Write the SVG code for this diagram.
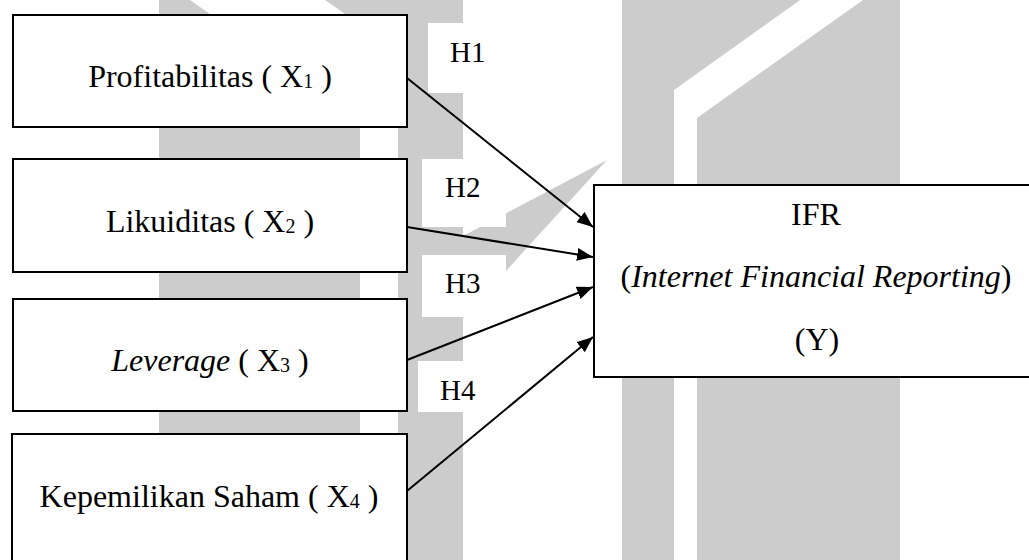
<svg xmlns="http://www.w3.org/2000/svg" width="1029" height="560" viewBox="0 0 1029 560">
<style>
.wm{fill:#cccccc;stroke:none}
.box{fill:#ffffff;stroke:#000000;stroke-width:2}
.lblbg{fill:#ffffff;stroke:none}
.t{font-family:"Liberation Serif","Times New Roman",serif;font-size:32px;fill:#000000;text-anchor:middle}
.h{font-family:"Liberation Serif","Times New Roman",serif;font-size:29px;fill:#000000}
.sub{font-size:20px}
.conn{stroke:#000000;stroke-width:2;fill:none}
</style>
<defs>
<marker id="arr" markerUnits="userSpaceOnUse" markerWidth="17" markerHeight="13" refX="16" refY="6.5" orient="auto">
<path d="M0,0 L16,6.5 L0,13 z" fill="#000000"/>
</marker>
</defs>
<rect width="1029" height="560" fill="#ffffff"/>
<g id="watermark">
<polygon class="wm" points="159,0 190,0 360,120 360,560 159,560"/>
<polygon class="wm" points="325,0 463,0 463,560 398,560 398,51"/>
<polygon class="wm" points="607,160 463,236 463,318"/>
<polygon class="wm" points="622,0 800,0 674,90 674,560 622,560"/>
<polygon class="wm" points="863,0 900,0 900,560 697,560 697,118"/>
</g>
<g id="label-H1"><rect class="lblbg" x="428" y="23" width="84" height="70"/><text class="h" x="450" y="62">H1</text></g>
<g id="label-H2"><rect class="lblbg" x="422" y="159" width="84" height="68"/><text class="h" x="445" y="197">H2</text></g>
<g id="label-H3"><rect class="lblbg" x="422" y="255" width="84" height="62"/><text class="h" x="445" y="293">H3</text></g>
<g id="label-H4"><rect class="lblbg" x="418" y="361" width="84" height="51"/><text class="h" x="440" y="400">H4</text></g>
<g id="node-x1">
<rect class="box" x="13" y="15" width="394" height="112"/>
<text class="t" x="210" y="87">Profitabilitas ( X<tspan class="sub" dy="1">1</tspan><tspan dy="-1"> )</tspan></text>
</g>
<g id="node-x2">
<rect class="box" x="13" y="159" width="394" height="113"/>
<text class="t" x="210" y="232">Likuiditas ( X<tspan class="sub" dy="1">2</tspan><tspan dy="-1"> )</tspan></text>
</g>
<g id="node-x3">
<rect class="box" x="13" y="299" width="394" height="112"/>
<text class="t" x="210" y="371"><tspan font-style="italic">Leverage</tspan> ( X<tspan class="sub" dy="1">3</tspan><tspan dy="-1"> )</tspan></text>
</g>
<g id="node-x4">
<rect class="box" x="12" y="434" width="395" height="140"/>
<text class="t" x="209" y="507">Kepemilikan Saham ( X<tspan class="sub" dy="1">4</tspan><tspan dy="-1"> )</tspan></text>
</g>
<g id="node-y">
<rect class="box" x="594" y="185" width="445" height="192"/>
<text class="t" x="816" y="225">IFR</text>
<text class="t" x="816" y="287">(<tspan font-style="italic">Internet Financial Reporting</tspan>)</text>
<text class="t" x="817" y="350">(Y)</text>
</g>
<g id="connectors">
<line class="conn" x1="407" y1="78" x2="593" y2="227" marker-end="url(#arr)"/>
<line class="conn" x1="407" y1="227" x2="593" y2="257" marker-end="url(#arr)"/>
<line class="conn" x1="407" y1="360" x2="593" y2="287" marker-end="url(#arr)"/>
<line class="conn" x1="407" y1="491" x2="593" y2="337" marker-end="url(#arr)"/>
</g>
</svg>
